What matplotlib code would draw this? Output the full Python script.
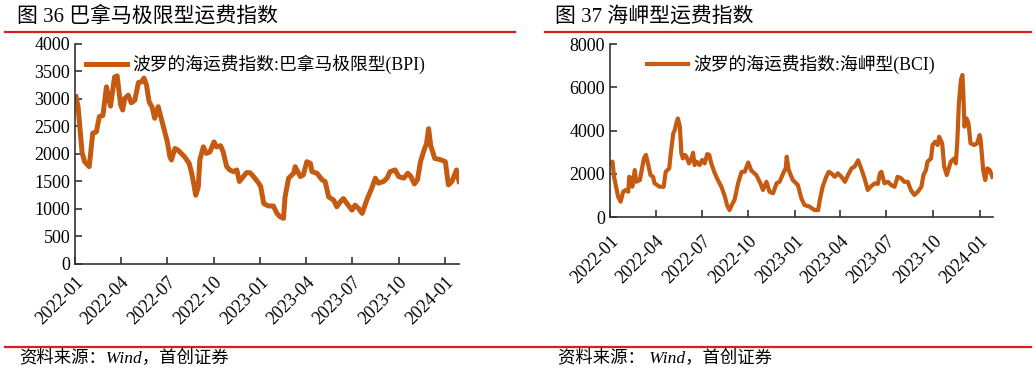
#BPI and BCI freight index charts
import pandas as pd
import numpy as np
import matplotlib
matplotlib.use('Agg')
import matplotlib.pyplot as plt
import matplotlib.dates as mdates
from matplotlib.lines import Line2D

plt.rcParams['font.family'] = ['Liberation Serif', 'Noto Sans CJK SC']
plt.rcParams['axes.unicode_minus'] = False

#data
bpi_dates = ['2022-01-03','2022-01-07','2022-01-11','2022-01-15','2022-01-20','2022-01-29','2022-02-05','2022-02-12',
             '2022-02-18','2022-02-25','2022-03-04','2022-03-12','2022-03-20','2022-03-25','2022-04-01','2022-04-05',
             '2022-04-09','2022-04-16','2022-04-22','2022-04-29','2022-05-06','2022-05-12','2022-05-17','2022-05-22',
             '2022-05-27','2022-06-02','2022-06-07','2022-06-14','2022-06-19','2022-06-25','2022-07-02','2022-07-07',
             '2022-07-10','2022-07-17','2022-07-23','2022-08-05','2022-08-14','2022-08-19','2022-08-24','2022-08-27',
             '2022-09-01','2022-09-04','2022-09-11','2022-09-17','2022-09-24','2022-10-02','2022-10-07','2022-10-15',
             '2022-10-20','2022-10-27','2022-11-02','2022-11-09','2022-11-16','2022-11-21','2022-11-29','2022-12-05',
             '2022-12-12','2022-12-19','2022-12-29','2023-01-02','2023-01-08','2023-01-17','2023-01-27','2023-02-03',
             '2023-02-09','2023-02-16','2023-02-19','2023-02-26','2023-03-08','2023-03-11','2023-03-21','2023-03-27',
             '2023-04-03','2023-04-10','2023-04-13','2023-04-23','2023-05-03','2023-05-09','2023-05-16','2023-05-26',
             '2023-06-01','2023-06-08','2023-06-14','2023-06-21','2023-07-01','2023-07-07','2023-07-14','2023-07-21',
             '2023-07-30','2023-08-09','2023-08-16','2023-08-22','2023-09-01','2023-09-08','2023-09-14','2023-09-24',
             '2023-10-01','2023-10-11','2023-10-19','2023-10-25','2023-11-01','2023-11-07','2023-11-13','2023-11-20',
             '2023-11-25','2023-11-29','2023-12-03','2023-12-11','2023-12-21','2024-01-01','2024-01-07','2024-01-14',
             '2024-01-23','2024-01-28']
bpi_values = [3040,2860,2440,2020,1860,1770,2380,2400,
              2680,2700,3220,2870,3400,3420,2890,2800,
              3010,3070,2930,2980,3300,3310,3380,3250,
              2950,2850,2650,2860,2680,2470,2220,1950,
              1890,2100,2070,1950,1830,1650,1410,1250,
              1400,1890,2130,2010,2040,2220,2130,2150,
              2040,1770,1710,1680,1710,1500,1590,1660,
              1660,1590,1470,1410,1100,1055,1055,920,
              860,830,1220,1560,1650,1770,1590,1620,
              1860,1830,1680,1650,1530,1500,1220,1160,
              1040,1130,1190,1100,980,1070,1010,920,
              1160,1380,1560,1470,1500,1560,1680,1710,
              1590,1560,1650,1590,1455,1530,1860,2070,
              2190,2460,2160,1920,1900,1860,1440,1500,
              1710,1500]

bci_dates = ['2022-01-03','2022-01-06','2022-01-09','2022-01-13','2022-01-17','2022-01-22','2022-01-27','2022-02-01',
             '2022-02-06','2022-02-08','2022-02-12','2022-02-14','2022-02-19','2022-02-22','2022-03-01','2022-03-04',
             '2022-03-09','2022-03-13','2022-03-17','2022-03-22','2022-03-27','2022-03-30','2022-04-09','2022-04-17',
             '2022-04-21','2022-04-28','2022-05-01','2022-05-06','2022-05-09','2022-05-12','2022-05-15','2022-05-19',
             '2022-05-22','2022-05-25','2022-05-29','2022-06-01','2022-06-06','2022-06-11','2022-06-14','2022-06-17',
             '2022-06-21','2022-06-27','2022-07-02','2022-07-07','2022-07-12','2022-07-16','2022-07-20','2022-07-27',
             '2022-08-02','2022-08-09','2022-08-16','2022-08-20','2022-08-25','2022-08-31','2022-09-04','2022-09-11',
             '2022-09-18','2022-09-24','2022-10-01','2022-10-07','2022-10-17','2022-10-25','2022-10-30','2022-11-06',
             '2022-11-12','2022-11-19','2022-11-26','2022-12-02','2022-12-09','2022-12-14','2022-12-16','2022-12-20',
             '2022-12-28','2023-01-07','2023-01-14','2023-01-20','2023-01-30','2023-02-09','2023-02-16','2023-02-20',
             '2023-02-25','2023-03-04','2023-03-09','2023-03-14','2023-03-21','2023-03-27','2023-04-03','2023-04-10',
             '2023-04-16','2023-04-23','2023-04-29','2023-05-06','2023-05-12','2023-05-19','2023-05-25','2023-06-01',
             '2023-06-08','2023-06-14','2023-06-18','2023-06-21','2023-06-27','2023-07-04','2023-07-10','2023-07-17',
             '2023-07-23','2023-07-30','2023-08-05','2023-08-12','2023-08-18','2023-08-25','2023-09-01','2023-09-08',
             '2023-09-12','2023-09-17','2023-09-20','2023-09-27','2023-09-30','2023-10-05','2023-10-10','2023-10-13',
             '2023-10-19','2023-10-23','2023-10-28','2023-11-02','2023-11-05','2023-11-12','2023-11-15','2023-11-18',
             '2023-11-21','2023-11-25','2023-11-28','2023-11-30','2023-12-02','2023-12-06','2023-12-10','2023-12-14',
             '2023-12-21','2023-12-27','2024-01-01','2024-01-03','2024-01-08','2024-01-12','2024-01-16','2024-01-21',
             '2024-01-26']
bci_values = [2480,2560,1860,1400,940,710,1170,1250,
              1170,1860,1790,1400,2170,1630,1710,2090,
              2710,2870,2480,1940,1860,1560,1400,1400,
              2090,2250,2940,3870,4020,4330,4560,4180,
              2940,2710,2870,2790,2480,2710,2970,2400,
              2560,2400,2640,2480,2910,2870,2480,2020,
              1710,1400,940,555,320,630,790,1570,
              2090,2090,2520,2150,1940,1560,1250,1630,
              1170,1100,1560,1630,2020,2250,2790,2170,
              1710,1480,860,555,480,320,320,860,
              1400,1860,2090,2020,1860,2020,1860,1630,
              1940,2250,2330,2620,2250,1760,1250,1430,
              1560,1530,2020,2090,1560,1630,1480,1400,
              1860,1790,1630,1630,1250,1020,1170,1400,
              1940,2170,2560,2710,3330,3480,3330,3710,
              3410,2330,1940,2330,2560,2710,2480,3560,
              5260,6340,6570,5560,4180,4560,4330,3410,
              3330,3410,3790,3560,2170,1710,2250,2170,
              1860]

tick_dates = pd.date_range('2022-01-01', '2024-01-01', freq='QS')
line_color = '#C55A11'

fig = plt.figure(figsize=(10.36, 3.75), dpi=100)

def style_axis(ax, pad):
    for s in ['top', 'right']:
        ax.spines[s].set_visible(False)
    for s in ['left', 'bottom']:
        ax.spines[s].set_color('#333333')
        ax.spines[s].set_linewidth(1.2)
    ax.set_xlim(pd.Timestamp('2022-01-01'), pd.Timestamp('2024-01-28'))
    ax.set_xticks(tick_dates)
    ax.xaxis.set_major_formatter(mdates.DateFormatter('%Y-%m'))
    ax.tick_params(axis='both', direction='in', length=5, width=1.2, color='#333333', labelsize=13)
    ax.tick_params(axis='x', pad=pad)
    for lab in ax.get_xticklabels():
        lab.set_rotation(45)
        lab.set_ha('right')
        lab.set_va('top')
        lab.set_rotation_mode('anchor')

#left chart - BPI
ax1 = fig.add_axes([0.0724, 0.296, 0.3707, 0.5867])
ax1.plot(pd.to_datetime(bpi_dates), bpi_values, color=line_color, lw=3.6, solid_joinstyle='round')
ax1.set_ylim(0, 4000)
ax1.set_yticks(np.arange(0, 4001, 500))
style_axis(ax1, 7)
ax1.legend([Line2D([0], [0], color=line_color, lw=3.6)], ['波罗的海运费指数:巴拿马极限型(BPI)'],
           loc='upper left', bbox_to_anchor=(0.0, 1.0), frameon=False, fontsize=12.8,
           handlelength=2.3, handletextpad=0.3, borderaxespad=0.2)

#right chart - BCI
ax2 = fig.add_axes([0.5888, 0.4213, 0.370, 0.4613])
ax2.plot(pd.to_datetime(bci_dates), bci_values, color=line_color, lw=3.0, solid_joinstyle='round')
ax2.set_ylim(0, 8000)
ax2.set_yticks(np.arange(0, 8001, 2000))
style_axis(ax2, 11)
ax2.legend([Line2D([0], [0], color=line_color, lw=3.0)], ['波罗的海运费指数:海岬型(BCI)'],
           loc='upper left', bbox_to_anchor=(0.07, 1.0), frameon=False, fontsize=12.8,
           handlelength=2.3, handletextpad=0.3, borderaxespad=0.2)

#titles, red rules and source notes
fig.text(0.016, 0.955, '图 36 巴拿马极限型运费指数', fontsize=15, va='center', ha='left')
fig.text(0.536, 0.955, '图 37 海岬型运费指数', fontsize=15, va='center', ha='left')
red = '#D62020'
fig.add_artist(Line2D([0.005, 0.497], [1 - 32/375, 1 - 32/375], color=red, lw=1.6))
fig.add_artist(Line2D([0.526, 0.995], [1 - 32/375, 1 - 32/375], color=red, lw=1.6))
fig.add_artist(Line2D([0.005, 0.995], [1 - 347/375, 1 - 347/375], color=red, lw=1.6))
fig.text(0.019, 1 - 359/375, '资料来源：Wind，首创证券', fontsize=12.5, style='italic', va='center', ha='left')
fig.text(0.539, 1 - 359/375, '资料来源： Wind，首创证券', fontsize=12.5, style='italic', va='center', ha='left')

plt.savefig('out.png', dpi=100)
